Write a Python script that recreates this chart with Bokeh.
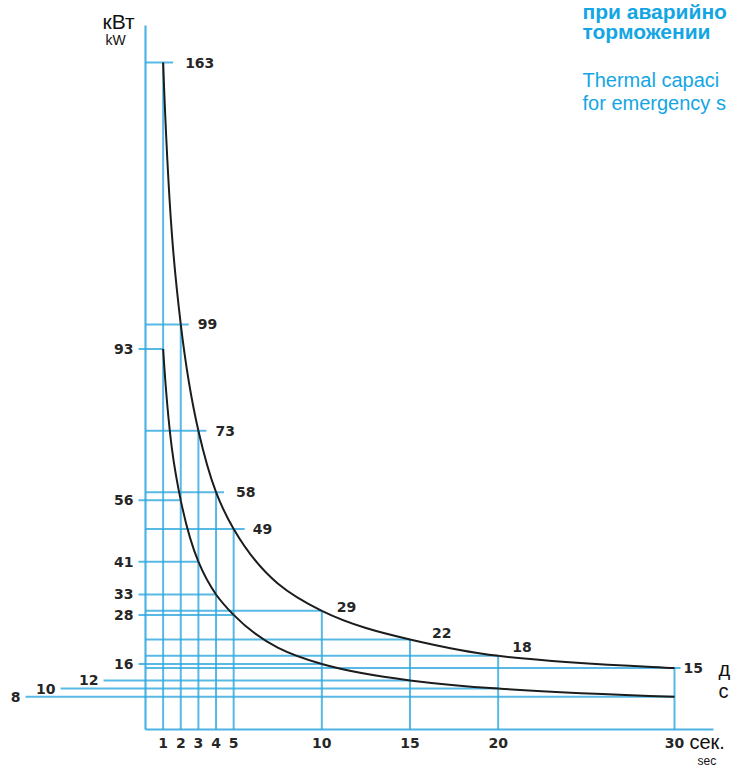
import math
from bokeh.plotting import figure
from bokeh.models import Range1d, ColumnDataSource
from bokeh.core.properties import value
from bokeh.embed import file_html
from bokeh.resources import INLINE

# ---------------- data ----------------
seconds = [1, 2, 3, 4, 5, 10, 15, 20, 30]
kw_upper = [163, 99, 73, 58, 49, 29, 22, 18, 15]
kw_lower = [93, 56, 41, 33, 28, 16, 12, 10, 8]
x_ticks = [1, 2, 3, 4, 5, 10, 15, 20, 30]
x_tick_labels = [str(v) for v in x_ticks]
upper_labels = [str(v) for v in kw_upper]
lower_labels = [str(v) for v in kw_lower]

# ---------------- layout / style ----------------
W, H = 731, 767
PX_PER_X = 17.633
PX_PER_Y = 4.092
ORIGIN_X = 145      # canvas px of x = 0
ORIGIN_Y = 729      # canvas px (from top) of y = 0


def cx(px):
    return (px - ORIGIN_X) / PX_PER_X


def cy(py):
    return (ORIGIN_Y - py) / PX_PER_Y


def mid(baseline_px, size_px):
    # vertical centre of a text line whose alphabetic baseline is given
    return cy(baseline_px - 0.35 * size_px)


BLUE = "#2ea7df"
TITLE_BLUE = "#14a6e4"
INK = "#262626"
NUM_FONT = value("DejaVu Sans")
SANS = value("Liberation Sans")

# per-label placement (pixels)
upper_line_extra_px = [10, 8, 8, 8, 11, 0, 0, 0, 6]
upper_label_dx = [22, 17, 17, 20, 19, 15, 22, 14, 9]
upper_label_dy = [0, 0, 0, 0, 0, -4, -6, -9, 0]
lower_line_start_px = [138, 138, 138, 138, 138, 138, 103, 60, 25]

p = figure(width=W, height=H, output_backend="svg", toolbar_location=None,
           x_range=Range1d(-ORIGIN_X / PX_PER_X, (W - ORIGIN_X) / PX_PER_X),
           y_range=Range1d(-(H - ORIGIN_Y) / PX_PER_Y, ORIGIN_Y / PX_PER_Y),
           min_border=0, min_border_left=0, min_border_right=0,
           min_border_top=0, min_border_bottom=0)
p.xaxis.visible = False
p.yaxis.visible = False
p.grid.visible = False
p.outline_line_color = None
p.background_fill_color = "white"
p.border_fill_color = "white"

# ---------------- blue grid ----------------
p.segment(x0=[0], y0=[0], x1=[0], y1=[cy(25)], line_color=BLUE, line_width=2.2, line_alpha=0.85)
p.segment(x0=[0], y0=[0], x1=[cx(713)], y1=[0], line_color=BLUE, line_width=2.2, line_alpha=0.85)

p.segment(x0=seconds, y0=[0] * len(seconds), x1=seconds, y1=kw_upper,
          line_color=BLUE, line_width=2, line_alpha=0.8)

up_src = ColumnDataSource(dict(
    x0=[0] * len(seconds),
    x1=[s + e / PX_PER_X for s, e in zip(seconds, upper_line_extra_px)],
    y=kw_upper))
p.segment(x0="x0", y0="y", x1="x1", y1="y", source=up_src,
          line_color=BLUE, line_width=2, line_alpha=0.8)

lo_src = ColumnDataSource(dict(
    x0=[cx(v) for v in lower_line_start_px],
    x1=seconds, y=kw_lower, label=lower_labels))
p.segment(x0="x0", y0="y", x1="x1", y1="y", source=lo_src,
          line_color=BLUE, line_width=2, line_alpha=0.8)


# ---------------- curves (cubic Hermite through the read points) ----------------
def bezier_cols(xs, ys):
    n = len(xs)
    lx = [math.log(v) for v in xs]
    ly = [math.log(v) for v in ys]
    m = []
    for i in range(n):
        a, b = max(i - 1, 0), min(i + 1, n - 1)
        s = (ly[b] - ly[a]) / (lx[b] - lx[a])
        m.append(s * ys[i] / xs[i])
    cols = dict(x0=[], y0=[], x1=[], y1=[], cx0=[], cy0=[], cx1=[], cy1=[])
    for i in range(n - 1):
        h = xs[i + 1] - xs[i]
        cols["x0"].append(xs[i]); cols["y0"].append(ys[i])
        cols["x1"].append(xs[i + 1]); cols["y1"].append(ys[i + 1])
        cols["cx0"].append(xs[i] + h / 3); cols["cy0"].append(ys[i] + m[i] * h / 3)
        cols["cx1"].append(xs[i + 1] - h / 3); cols["cy1"].append(ys[i + 1] - m[i + 1] * h / 3)
    return ColumnDataSource(cols)


for ys in (kw_upper, kw_lower):
    p.bezier(x0="x0", y0="y0", x1="x1", y1="y1", cx0="cx0", cy0="cy0",
             cx1="cx1", cy1="cy1", source=bezier_cols(seconds, ys),
             line_color="#1c1c1c", line_width=2)

# ---------------- numeric labels ----------------
ul_src = ColumnDataSource(dict(x=seconds, y=kw_upper, t=upper_labels,
                               dx=upper_label_dx, dy=upper_label_dy))
p.text(x="x", y="y", text="t", x_offset="dx", y_offset="dy", source=ul_src,
       text_font=NUM_FONT, text_font_style="bold", text_font_size="14px",
       text_color=INK, text_align="left", text_baseline="middle")

p.text(x="x0", y="y", text="label", x_offset=-5, source=lo_src,
       text_font=NUM_FONT, text_font_style="bold", text_font_size="14px",
       text_color=INK, text_align="right", text_baseline="middle")

p.text(x=x_ticks, y=[cy(742)] * len(x_ticks), text=x_tick_labels,
       text_font=NUM_FONT, text_font_style="bold", text_font_size="14px",
       text_color=INK, text_align="center", text_baseline="middle")

# ---------------- unit labels ----------------
p.text(x=[cx(102)], y=[mid(28, 21)], text=["кВт"], text_font=SANS, text_font_size="21px",
       text_color="#111111", text_baseline="middle")
p.text(x=[cx(105)], y=[mid(44, 14)], text=["kW"], text_font=SANS, text_font_size="14px",
       text_color="#111111", text_baseline="middle")
p.text(x=[cx(689)], y=[mid(748, 20)], text=["сек."], text_font=SANS, text_font_size="20px",
       text_color="#111111", text_baseline="middle")
p.text(x=[cx(697)], y=[cy(760)], text=["sec"], text_font=SANS, text_font_size="12px",
       text_color="#111111", text_baseline="middle")
p.text(x=[cx(718), cx(718)], y=[mid(675, 20), mid(697, 20)], text=["д", "с"], text_font=SANS,
       text_font_size="20px", text_color="#111111", text_baseline="middle")

# ---------------- title block (top right) ----------------
p.text(x=[cx(582), cx(582)], y=[mid(18, 21), mid(38, 21)], text=["при аварийно", "торможении"],
       text_font=SANS, text_font_style="bold", text_font_size="21px",
       text_color=TITLE_BLUE, text_baseline="middle")
p.text(x=[cx(582), cx(582)], y=[mid(86, 20), mid(109, 20)], text=["Thermal capaci", "for emergency s"],
       text_font=SANS, text_font_size="20px",
       text_color=TITLE_BLUE, text_baseline="middle")

open("out.html", "w").write(file_html(p, INLINE))
